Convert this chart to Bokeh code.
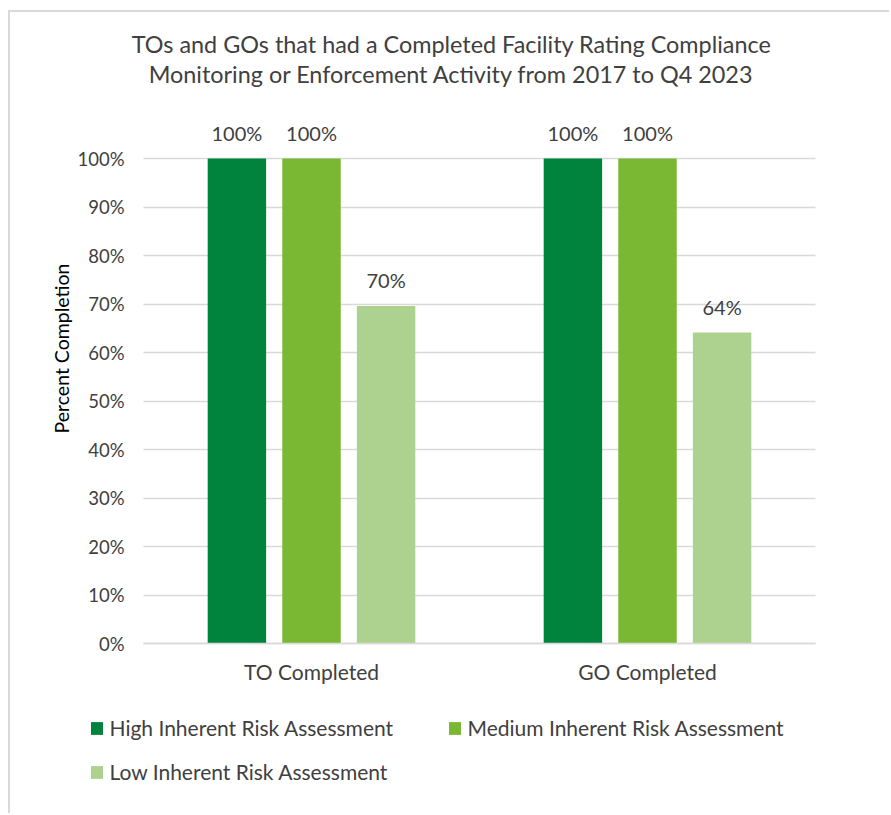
from bokeh.plotting import figure
from bokeh.models import (Range1d, ColumnDataSource, Label, Legend, LegendItem,
                          NumeralTickFormatter, FixedTicker, Grid)
from bokeh.transform import dodge
from bokeh.core.properties import value
from bokeh.embed import file_html
from bokeh.resources import INLINE

# ---- data ----
categories = ["TO Completed", "GO Completed"]
series = ["High Inherent Risk Assessment",
          "Medium Inherent Risk Assessment",
          "Low Inherent Risk Assessment"]
high = [1.00, 1.00]
medium = [1.00, 1.00]
low = [0.696, 0.641]
y_ticks = [0.0, 0.1, 0.2, 0.3, 0.4, 0.5, 0.6, 0.7, 0.8, 0.9, 1.0]
title_lines = ["TOs and GOs that had a Completed Facility Rating Compliance",
               "Monitoring or Enforcement Activity from 2017 to Q4 2023"]
y_label = "Percent Completion"

# ---- style / layout (pixels) ----
FONT = "Lato"
TXT = "#404040"
GRID = "#D9D9D9"
colors = ["#00843D", "#7AB833", "#ADD28F"]
offsets = [-0.222, 0.0, 0.222]
bar_w = 0.174

W, H = 881, 803            # canvas starts at page (10, 12)
OX, OY = 10, 12
PL, PR, P0, P100 = 143, 815, 643, 158   # plot area in page pixels
ncat = len(categories)
unit_x = (PR - PL) / ncat
unit_y = (P0 - P100)
x_start = -(PL - OX) / unit_x
x_end = ncat + (OX + W - PR) / unit_x
y_end = (P0 - OY) / unit_y
y_start = -(OY + H - P0) / unit_y

pos = [i + 0.5 for i in range(ncat)]

p = figure(x_range=Range1d(x_start, x_end), y_range=Range1d(y_start, y_end),
           width=W, height=H, output_backend="svg", toolbar_location=None,
           min_border=0, min_border_left=0, min_border_right=0,
           min_border_top=0, min_border_bottom=0)
p.styles = {"margin-left": "8px", "margin-top": "10px",
            "border-left": "2px solid #D9D9D9", "border-top": "2px solid #D9D9D9"}
p.outline_line_color = None
p.background_fill_color = "white"
p.border_fill_color = "white"

# y axis (fixed at the left edge of the category area)
yax = p.yaxis[0]
yax.fixed_location = 0
yax.ticker = FixedTicker(ticks=y_ticks)
yax.bounds = (0, ((P0 - 348) * 2) / unit_y)
yax.formatter = NumeralTickFormatter(format="0%")
yax.axis_line_color = None
yax.major_tick_line_color = None
yax.minor_tick_line_color = None
yax.major_tick_out = 0
yax.major_tick_in = 0
yax.minor_tick_out = 0
yax.major_label_standoff = 19
yax.major_label_text_font = FONT
yax.major_label_text_font_size = "18.5px"
yax.major_label_text_color = TXT
yax.axis_label = y_label
yax.axis_label_text_font = FONT
yax.axis_label_text_font_size = "19.5px"
yax.axis_label_text_font_style = "normal"
yax.axis_label_text_color = "#000000"
yax.axis_label_standoff = 1

# x axis (fixed at 0 %)
xax = p.xaxis[0]
xax.fixed_location = 0
xax.bounds = (0, ncat)
xax.ticker = FixedTicker(ticks=pos)
xax.major_label_overrides = {pp: c for pp, c in zip(pos, categories)}
xax.axis_line_color = GRID
xax.axis_line_width = 1.5
xax.major_tick_line_color = None
xax.minor_tick_line_color = None
xax.major_tick_out = 0
xax.major_tick_in = 0
xax.minor_tick_out = 0
xax.major_label_standoff = 15
xax.major_label_text_font = FONT
xax.major_label_text_font_size = "21px"
xax.major_label_text_color = TXT

p.xgrid.grid_line_color = None
p.ygrid.grid_line_color = GRID
p.ygrid.grid_line_width = 1.5
p.ygrid.ticker = FixedTicker(ticks=y_ticks)
if "cross_bounds" in Grid.properties():
    p.ygrid.cross_bounds = (0, ncat)
else:
    p.ygrid.grid_line_color = None
    p.segment(x0=0, x1=ncat, y0=y_ticks, y1=y_ticks, line_color=GRID, line_width=1.5)

renderers = []
for name, vals, col, off in zip(series, [high, medium, low], colors, offsets):
    src = ColumnDataSource(dict(pos=pos, val=vals,
                                label=[f"{round(v * 100)}%" for v in vals]))
    r = p.vbar(x=dodge("pos", off), top="val", width=bar_w,
               source=src, fill_color=col, line_color=None)
    renderers.append(r)
    p.text(x=dodge("pos", off), y="val", text="label", source=src,
           text_align="center", text_baseline="alphabetic", y_offset=-26,
           text_font=value(FONT), text_font_size="20px", text_color=TXT)

# title (centred on the whole chart)
for line, base in zip(title_lines, [43, 73]):
    p.add_layout(Label(x=451 - OX, y=OY + H - base, x_units="screen", y_units="screen",
                       text=line, text_align="center", text_baseline="alphabetic",
                       text_font=FONT, text_font_size="23.4px", text_color=TXT))

# legend: two rows
leg_style = dict(orientation="horizontal", glyph_width=15, glyph_height=16,
                 label_standoff=6, label_width=300, label_height=20, spacing=37,
                 padding=0, margin=0, border_line_color=None, background_fill_alpha=0,
                 label_text_font=FONT, label_text_font_size="21px", label_text_color=TXT)
legA = Legend(items=[LegendItem(label=series[0], renderers=[renderers[0]]),
                     LegendItem(label=series[1], renderers=[renderers[1]])],
              location=(88.5 - OX, OY + H - 740), **leg_style)
legB = Legend(items=[LegendItem(label=series[2], renderers=[renderers[2]])],
              location=(88.5 - OX, OY + H - 784), **leg_style)
p.add_layout(legA)
p.add_layout(legB)

open("out.html", "w").write(file_html(p, INLINE))
